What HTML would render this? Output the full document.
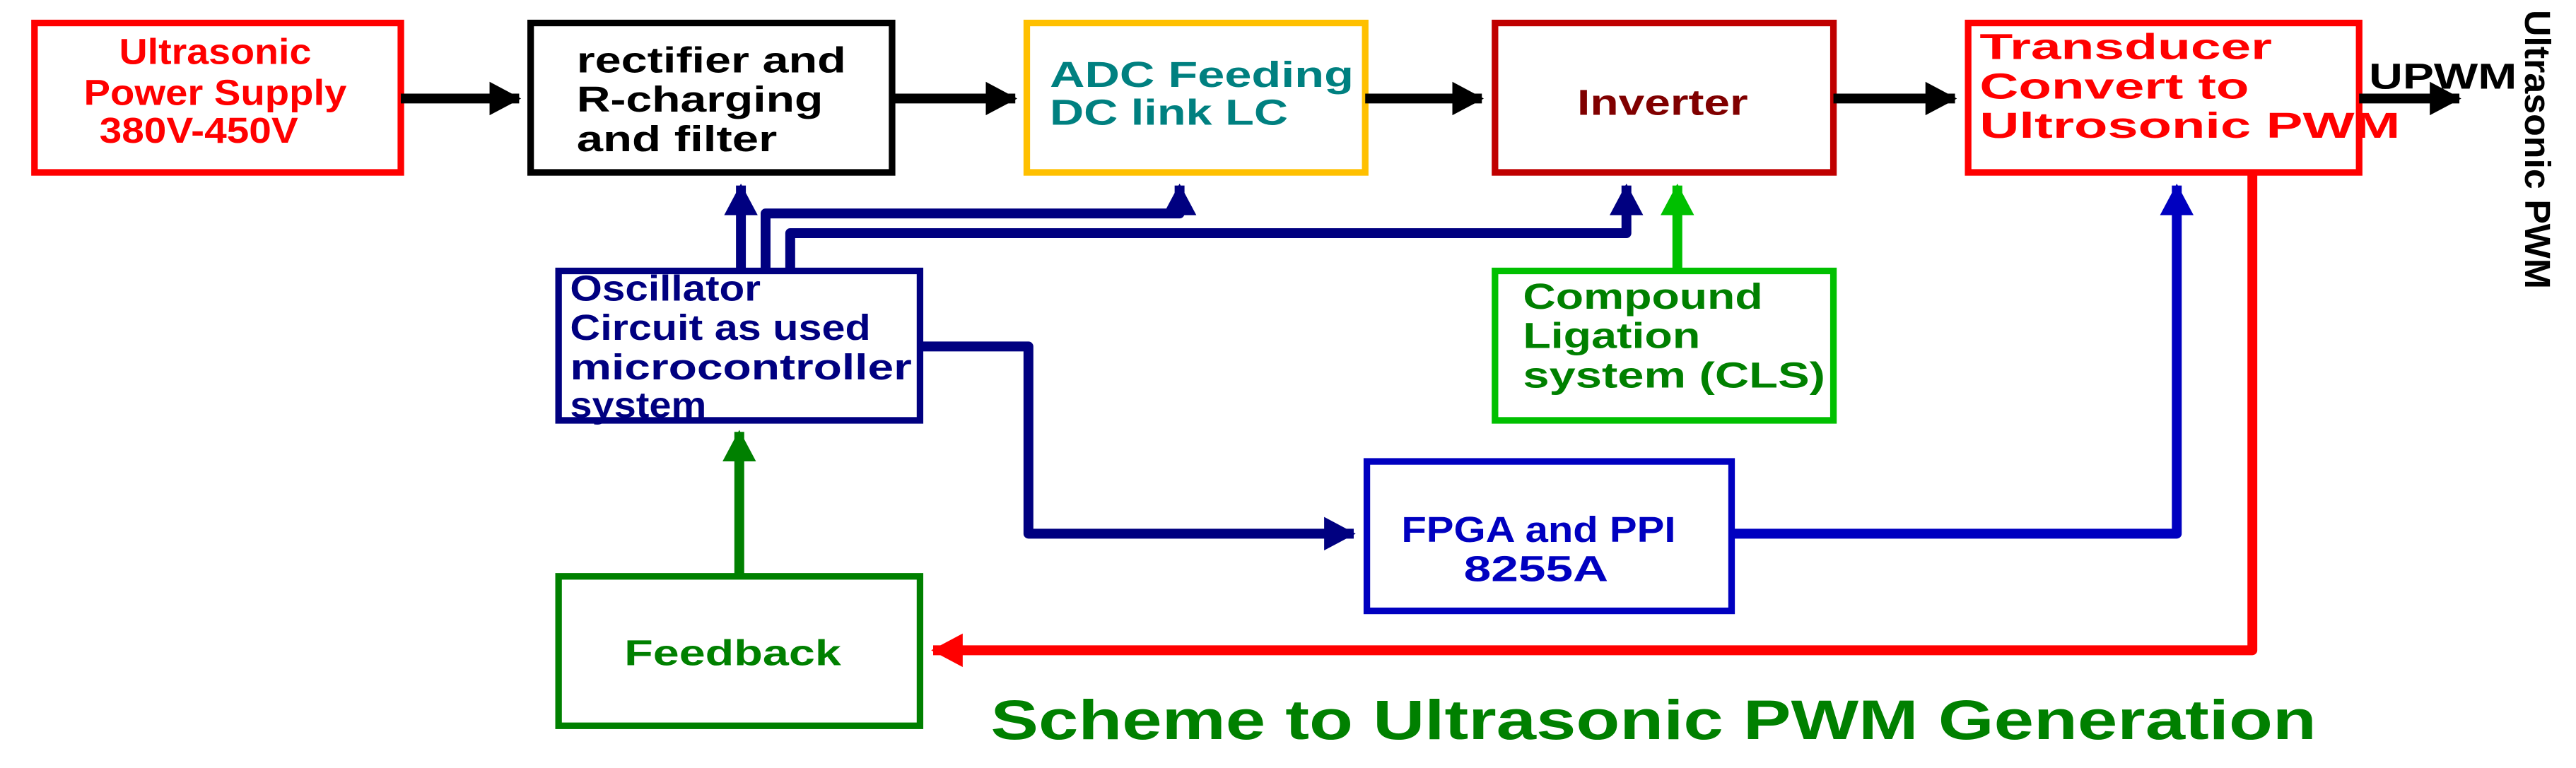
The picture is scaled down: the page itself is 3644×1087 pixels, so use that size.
<!DOCTYPE html>
<html><head><meta charset="utf-8"><style>
html,body{margin:0;padding:0;background:#fff;}
svg{display:block;}
text{font-family:"Liberation Sans",sans-serif;font-weight:bold;}
</style></head><body>
<svg width="3644" height="1087" viewBox="0 0 1568 467.7" preserveAspectRatio="none" xmlns="http://www.w3.org/2000/svg">
<defs>
<marker id="ab" markerWidth="4" markerHeight="4" refX="3" refY="2" orient="auto" markerUnits="strokeWidth"><path d="M0,0.3 L3.2,2 L0,3.7 Z" fill="#000"/></marker>
<marker id="an" markerWidth="4" markerHeight="4" refX="3" refY="2" orient="auto" markerUnits="strokeWidth"><path d="M0,0.3 L3.2,2 L0,3.7 Z" fill="#000080"/></marker>
<marker id="ag" markerWidth="4" markerHeight="4" refX="3" refY="2" orient="auto" markerUnits="strokeWidth"><path d="M0,0.3 L3.2,2 L0,3.7 Z" fill="#00c000"/></marker>
<marker id="adg" markerWidth="4" markerHeight="4" refX="3" refY="2" orient="auto" markerUnits="strokeWidth"><path d="M0,0.3 L3.2,2 L0,3.7 Z" fill="#008000"/></marker>
<marker id="abl" markerWidth="4" markerHeight="4" refX="3" refY="2" orient="auto" markerUnits="strokeWidth"><path d="M0,0.3 L3.2,2 L0,3.7 Z" fill="#0000c0"/></marker>
<marker id="ar" markerWidth="4" markerHeight="4" refX="3" refY="2" orient="auto" markerUnits="strokeWidth"><path d="M0,0.3 L3.2,2 L0,3.7 Z" fill="#ff0000"/></marker>
</defs>
<g fill="none" stroke-width="4">
<rect x="21" y="14" width="223" height="91" stroke="#ff0000"/>
<rect x="323" y="14" width="220" height="91" stroke="#000"/>
<rect x="625" y="14" width="206" height="91" stroke="#ffc000"/>
<rect x="910" y="14" width="206" height="91" stroke="#c00000"/>
<rect x="1198" y="14" width="238" height="91" stroke="#ff0000"/>
<rect x="340" y="165" width="220" height="91" stroke="#000080"/>
<rect x="910" y="165" width="206" height="91" stroke="#00c000"/>
<rect x="832" y="281" width="222" height="91" stroke="#0000c0"/>
<rect x="340" y="351" width="220" height="91" stroke="#008000"/>
</g>
<g fill="none" stroke-width="6" stroke-linejoin="round">
<line x1="244" y1="60" x2="316" y2="60" stroke="#000" marker-end="url(#ab)"/>
<line x1="543" y1="60" x2="618" y2="60" stroke="#000" marker-end="url(#ab)"/>
<line x1="831" y1="60" x2="902" y2="60" stroke="#000" marker-end="url(#ab)"/>
<line x1="1116" y1="60" x2="1190" y2="60" stroke="#000" marker-end="url(#ab)"/>
<line x1="1436" y1="60" x2="1497" y2="60" stroke="#000" marker-end="url(#ab)"/>
<polyline points="451,165 451,113" stroke="#000080" marker-end="url(#an)"/>
<polyline points="466,165 466,130 718,130 718,113" stroke="#000080" marker-end="url(#an)"/>
<polyline points="481,165 481,142 990,142 990,113" stroke="#000080" marker-end="url(#an)"/>
<polyline points="560,211 626,211 626,325 824,325" stroke="#000080" marker-end="url(#an)"/>
<polyline points="1021,165 1021,113" stroke="#00c000" marker-end="url(#ag)"/>
<polyline points="450,351 450,263" stroke="#008000" marker-end="url(#adg)"/>
<polyline points="1054,325 1325,325 1325,113" stroke="#0000c0" marker-end="url(#abl)"/>
<polyline points="1371,105 1371,396 568,396" stroke="#ff0000" marker-end="url(#ar)"/>
</g>
<g font-size="22">
<text x="131" y="39" fill="#ff0000" text-anchor="middle" textLength="117" lengthAdjust="spacingAndGlyphs">Ultrasonic</text>
<text x="131" y="64" fill="#ff0000" text-anchor="middle" textLength="160" lengthAdjust="spacingAndGlyphs">Power Supply</text>
<text x="121" y="87" fill="#ff0000" text-anchor="middle" textLength="121" lengthAdjust="spacingAndGlyphs">380V-450V</text>
<text x="351" y="44" fill="#000" textLength="164" lengthAdjust="spacingAndGlyphs">rectifier and</text>
<text x="351" y="68" fill="#000" textLength="150" lengthAdjust="spacingAndGlyphs">R-charging</text>
<text x="351" y="92" fill="#000" textLength="122" lengthAdjust="spacingAndGlyphs">and filter</text>
<text x="639" y="53" fill="#008080" textLength="185" lengthAdjust="spacingAndGlyphs">ADC Feeding</text>
<text x="639" y="76" fill="#008080" textLength="145" lengthAdjust="spacingAndGlyphs">DC link LC</text>
<text x="960" y="70" fill="#800000" textLength="104" lengthAdjust="spacingAndGlyphs">Inverter</text>
<text x="1205" y="36" fill="#ff0000" textLength="178" lengthAdjust="spacingAndGlyphs">Transducer</text>
<text x="1205" y="60" fill="#ff0000" textLength="164" lengthAdjust="spacingAndGlyphs">Convert to</text>
<text x="1205" y="84" fill="#ff0000" textLength="256" lengthAdjust="spacingAndGlyphs">Ultrosonic PWM</text>
<text x="1442" y="54" fill="#000" textLength="90" lengthAdjust="spacingAndGlyphs">UPWM</text>
<text x="347" y="183" fill="#000080" textLength="116" lengthAdjust="spacingAndGlyphs">Oscillator</text>
<text x="347" y="207" fill="#000080" textLength="183" lengthAdjust="spacingAndGlyphs">Circuit as used</text>
<text x="347" y="231" fill="#000080" textLength="208" lengthAdjust="spacingAndGlyphs">microcontroller</text>
<text x="347" y="254" fill="#000080" textLength="83" lengthAdjust="spacingAndGlyphs">system</text>
<text x="927" y="188" fill="#008000" textLength="146" lengthAdjust="spacingAndGlyphs">Compound</text>
<text x="927" y="212" fill="#008000" textLength="108" lengthAdjust="spacingAndGlyphs">Ligation</text>
<text x="927" y="236" fill="#008000" textLength="184" lengthAdjust="spacingAndGlyphs">system (CLS)</text>
<text x="853" y="330" fill="#0000c0" textLength="167" lengthAdjust="spacingAndGlyphs">FPGA and PPI</text>
<text x="891" y="354" fill="#0000c0" textLength="88" lengthAdjust="spacingAndGlyphs">8255A</text>
<text x="380" y="405" fill="#008000" textLength="132" lengthAdjust="spacingAndGlyphs">Feedback</text>
<text x="603" y="450" fill="#008000" font-size="34" textLength="807" lengthAdjust="spacingAndGlyphs">Scheme to Ultrasonic PWM Generation</text>
<text transform="translate(1537,6) rotate(90)" x="0" y="0" fill="#000" font-size="22" textLength="170" lengthAdjust="spacingAndGlyphs">Ultrasonic PWM</text>
</g>
</svg>
</body></html>
